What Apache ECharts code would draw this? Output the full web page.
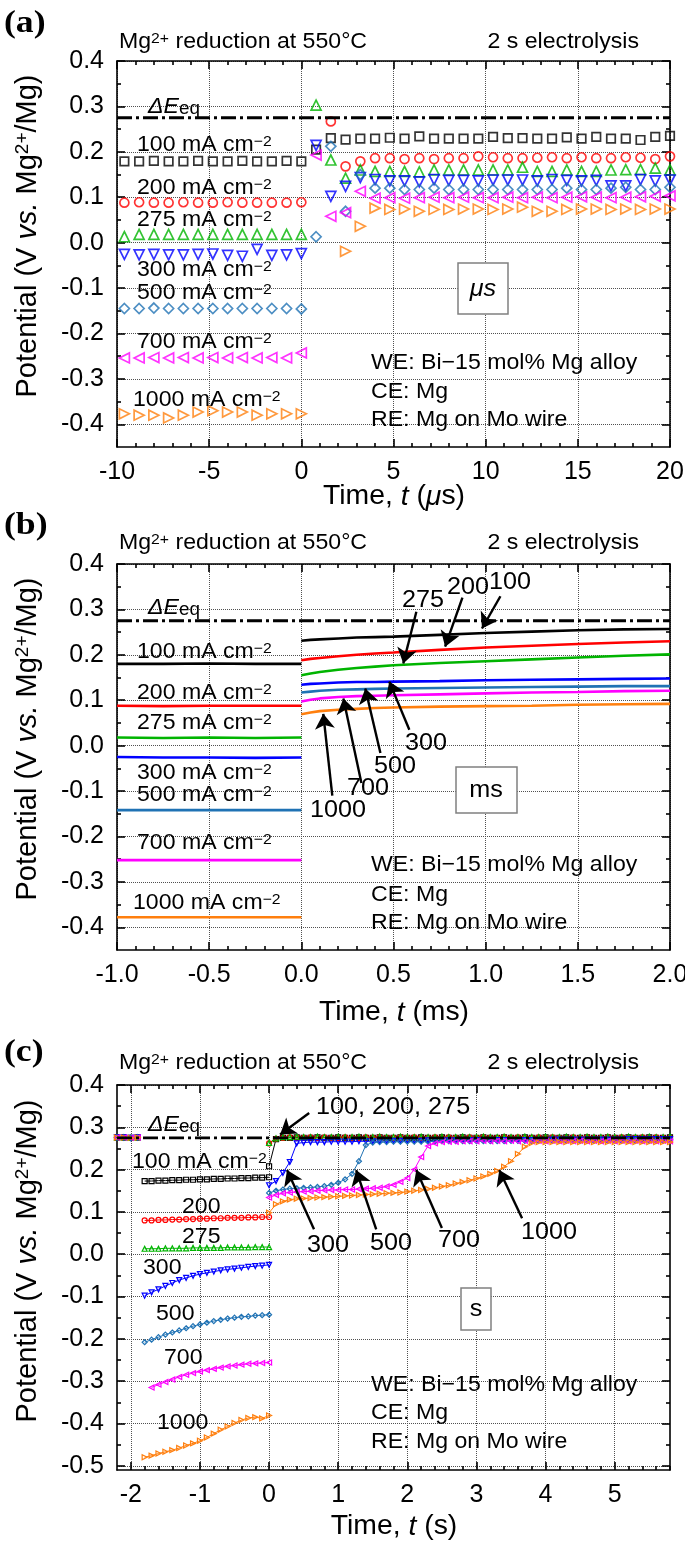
<!DOCTYPE html>
<html><head><meta charset="utf-8">
<script src="https://cdn.jsdelivr.net/npm/echarts@6/dist/echarts.min.js"></script>
<style>html,body{margin:0;padding:0;background:#fff}#c{width:685px;height:1549px}</style>
</head><body><div id="c"></div>
<script>
// ---------------- DATA ----------------
const EQ = 0.275; // ΔEeq level (V)
// Panel (a): microsecond scale, one marker every 0.8 µs
const aTime = [-9.6,-8.8,-8.0,-7.2,-6.4,-5.6,-4.8,-4.0,-3.2,-2.4,-1.6,-0.8,0.0,
  0.8,1.6,2.4,3.2,4.0,4.8,5.6,6.4,7.2,8.0,8.8,9.6,10.4,11.2,12.0,12.8,13.6,14.4,15.2,16.0,16.8,17.6,18.4,19.2,20.0];
const a100 = [0.179,0.179,0.180,0.179,0.179,0.180,0.179,0.179,0.180,0.179,0.179,0.180,0.179,
  0.205,0.230,0.227,0.229,0.229,0.231,0.229,0.234,0.229,0.229,0.229,0.229,0.233,0.230,0.230,0.229,0.229,0.232,0.229,0.233,0.229,0.229,0.226,0.233,0.235];
const a200 = [0.088,0.089,0.088,0.088,0.089,0.088,0.088,0.089,0.088,0.088,0.088,0.088,0.089,
  null,0.267,0.168,0.179,0.186,0.186,0.184,0.186,0.184,0.186,0.186,0.190,0.188,0.186,0.186,0.187,0.188,0.186,0.188,0.186,0.186,0.188,0.187,0.184,0.190];
const a275 = [0.013,0.018,0.018,0.018,0.018,0.018,0.018,0.018,0.018,0.018,0.018,0.018,0.018,
  0.303,0.182,0.142,0.160,0.157,0.157,0.157,0.156,0.160,0.160,0.160,0.160,0.160,0.160,0.166,0.157,0.157,0.160,0.157,0.157,0.160,0.161,0.161,0.164,0.160];
const a300 = [-0.026,-0.027,-0.026,-0.027,-0.027,-0.026,-0.025,-0.028,-0.030,-0.015,-0.028,-0.027,-0.024,
  0.214,0.102,0.124,0.143,0.139,0.136,0.136,0.134,0.139,0.137,0.137,0.136,0.138,0.138,0.138,0.136,0.139,0.137,0.136,0.137,0.125,0.125,0.139,0.136,0.138];
const a500 = [-0.145,-0.145,-0.144,-0.145,-0.145,-0.145,-0.145,-0.145,-0.145,-0.145,-0.145,-0.145,-0.146,
  0.013,0.212,0.069,0.150,0.120,0.120,0.117,0.117,0.120,0.117,0.117,0.117,0.117,0.117,0.117,0.117,0.117,0.120,0.117,0.117,0.120,0.122,0.117,0.117,0.122];
const a700 = [-0.254,-0.254,-0.253,-0.254,-0.253,-0.254,-0.253,-0.254,-0.253,-0.254,-0.253,-0.254,-0.243,
  0.193,0.058,0.066,0.113,0.098,0.099,0.098,0.099,0.100,0.099,0.100,0.099,0.099,0.100,0.099,0.100,0.099,0.100,0.101,0.100,0.099,0.100,0.101,0.102,0.103];
const a1000 = [-0.377,-0.380,-0.380,-0.386,-0.380,-0.373,-0.370,-0.373,-0.373,-0.380,-0.377,-0.377,-0.377,
  null,null,-0.019,0.036,0.076,0.073,0.074,0.069,0.073,0.073,0.074,0.074,0.073,0.074,0.078,0.069,0.069,0.073,0.074,0.074,0.073,0.074,0.073,0.074,0.074];

// Panel (b): millisecond scale
const bPreT = [-1.0,-0.75,-0.5,-0.25,0.0];
const b100pre = [0.180,0.180,0.181,0.180,0.180];
const b200pre = [0.088,0.087,0.088,0.088,0.088];
const b275pre = [0.018,0.017,0.018,0.017,0.018];
const b300pre = [-0.025,-0.026,-0.026,-0.027,-0.026];
const b500pre = [-0.142,-0.142,-0.142,-0.142,-0.142];
const b700pre = [-0.252,-0.252,-0.252,-0.252,-0.252];
const b1000pre = [-0.378,-0.378,-0.378,-0.378,-0.378];
const bPostT = [0.0,0.05,0.1,0.2,0.3,0.4,0.5,0.75,1.0,1.25,1.5,1.75,2.0];
const b100 = [0.231,0.233,0.234,0.236,0.238,0.239,0.240,0.244,0.248,0.251,0.254,0.256,0.257];
const b200 = [0.188,0.191,0.193,0.197,0.200,0.203,0.205,0.211,0.216,0.220,0.224,0.227,0.230];
const b275 = [0.155,0.159,0.162,0.167,0.171,0.174,0.177,0.182,0.186,0.190,0.194,0.198,0.201];
const b300 = [0.134,0.136,0.137,0.139,0.140,0.140,0.141,0.142,0.144,0.145,0.146,0.147,0.148];
const b500 = [0.117,0.119,0.121,0.123,0.124,0.125,0.126,0.127,0.128,0.129,0.130,0.131,0.131];
const b700 = [0.097,0.101,0.104,0.107,0.109,0.110,0.111,0.113,0.115,0.117,0.118,0.120,0.121];
const b1000 = [0.069,0.073,0.076,0.079,0.081,0.083,0.084,0.086,0.087,0.088,0.090,0.091,0.092];
// arrows (x1,y1 -> x2,y2) in data units, and their labels
const bArrowLabels = ['100','200','275','300','500','700','1000'];
const bArrows = [[1.08,0.329,0.98,0.258],[0.874,0.326,0.78,0.218],[0.624,0.295,0.553,0.181],
  [0.586,0.035,0.477,0.141],[0.429,-0.016,0.347,0.126],[0.326,-0.082,0.228,0.104],[0.168,-0.110,0.119,0.070]];

// Panel (c): second scale
const cRestT = [-2.2,-2.1,-2.0,-1.9];
const cRest = [0.276,0.276,0.275,0.276];
const cPreT = [-1.8,-1.7,-1.6,-1.5,-1.4,-1.3,-1.2,-1.1,-1.0,-0.9,-0.8,-0.7,-0.6,-0.5,-0.4,-0.3,-0.2,-0.1,0.0];
const c100pre = [0.173,0.173,0.174,0.174,0.175,0.175,0.176,0.176,0.177,0.177,0.178,0.178,0.179,0.179,0.180,0.180,0.181,0.181,0.182];
const c200pre = [0.080,0.080,0.081,0.081,0.082,0.082,0.083,0.083,0.084,0.084,0.085,0.085,0.086,0.086,0.086,0.087,0.087,0.088,0.088];
const c275pre = [0.013,0.013,0.013,0.014,0.014,0.014,0.014,0.015,0.015,0.015,0.015,0.015,0.016,0.016,0.016,0.016,0.017,0.017,0.017];
const c300pre = [-0.098,-0.090,-0.083,-0.075,-0.068,-0.061,-0.056,-0.051,-0.047,-0.044,-0.041,-0.038,-0.036,-0.034,-0.032,-0.030,-0.028,-0.027,-0.025];
const c500pre = [-0.208,-0.202,-0.196,-0.190,-0.185,-0.180,-0.175,-0.170,-0.166,-0.162,-0.158,-0.155,-0.152,-0.150,-0.148,-0.147,-0.145,-0.144,-0.143];
const c700pre = [null,-0.315,-0.308,-0.302,-0.296,-0.290,-0.285,-0.281,-0.277,-0.274,-0.271,-0.268,-0.265,-0.263,-0.261,-0.259,-0.258,-0.257,-0.256];
const c1000pre = [-0.480,-0.476,-0.471,-0.467,-0.463,-0.458,-0.452,-0.447,-0.441,-0.433,-0.424,-0.415,-0.407,-0.399,-0.392,-0.387,-0.385,-0.388,-0.381];
const cPostT = [0.0,0.1,0.2,0.3,0.4,0.5,0.6,0.7,0.8,0.9,1.0,1.1,1.2,1.3,1.4,1.5,1.6,1.7,1.8,1.9,
  2.0,2.1,2.2,2.3,2.4,2.5,2.6,2.7,2.8,2.9,3.0,3.1,3.2,3.3,3.4,3.5,3.6,3.7,3.8,3.9,
  4.0,4.1,4.2,4.3,4.4,4.5,4.6,4.7,4.8,4.9,5.0,5.1,5.2,5.3,5.4,5.5,5.6,5.7,5.8];
const c100post = [0.208,0.272,0.275,0.275,0.276,0.275,0.275,0.276,0.275,0.275,
  0.276,0.275,0.275,0.276,0.275,0.275,0.276,0.275,0.275,0.276,
  0.275,0.275,0.276,0.275,0.275,0.276,0.275,0.275,0.276,0.275,
  0.275,0.276,0.275,0.275,0.276,0.275,0.275,0.276,0.275,0.275,
  0.276,0.275,0.275,0.276,0.275,0.275,0.276,0.275,0.275,0.276,
  0.275,0.275,0.276,0.275,0.275,0.276,0.275,0.275,0.276];
const c200post = [0.262,0.273,0.275,0.276,0.275,0.275,0.276,0.275,0.276,0.275,
  0.275,0.276,0.275,0.275,0.276,0.275,0.276,0.275,0.275,0.276,
  0.275,0.276,0.275,0.275,0.276,0.275,0.276,0.275,0.275,0.276,
  0.275,0.276,0.275,0.275,0.276,0.275,0.276,0.275,0.275,0.276,
  0.275,0.276,0.275,0.275,0.276,0.275,0.276,0.275,0.275,0.276,
  0.275,0.276,0.275,0.275,0.276,0.275,0.276,0.275,0.275];
const c275post = [0.263,0.274,0.277,0.277,0.278,0.277,0.277,0.278,0.277,0.277,
  0.278,0.277,0.277,0.278,0.277,0.277,0.278,0.277,0.277,0.278,
  0.277,0.277,0.278,0.277,0.277,0.278,0.277,0.277,0.278,0.277,
  0.277,0.278,0.277,0.277,0.278,0.277,0.277,0.278,0.277,0.277,
  0.278,0.277,0.277,0.278,0.277,0.277,0.278,0.277,0.277,0.278,
  0.277,0.277,0.278,0.277,0.277,0.278,0.277,0.277,0.278];
const c300post = [0.163,0.173,0.192,0.218,0.262,0.264,0.265,0.265,0.265,0.266,
  0.266,0.266,0.266,0.267,0.267,0.267,0.267,0.268,0.268,0.268,
  0.268,0.268,0.268,0.269,0.269,0.269,0.269,0.269,0.269,0.269,
  0.270,0.270,0.270,0.270,0.270,0.270,0.270,0.270,0.270,0.270,
  0.270,0.271,0.271,0.271,0.271,0.271,0.271,0.271,0.271,0.271,
  0.271,0.271,0.272,0.272,0.272,0.272,0.272,0.272,0.272];
const c500post = [0.145,0.150,0.153,0.155,0.156,0.157,0.158,0.159,0.161,0.164,
  0.169,0.177,0.190,0.220,0.258,0.264,0.265,0.265,0.266,0.266,
  0.266,0.266,0.266,0.266,0.267,0.267,0.267,0.267,0.267,0.267,
  0.267,0.267,0.267,0.267,0.267,0.268,0.268,0.268,0.268,0.268,
  0.268,0.268,0.268,0.268,0.268,0.268,0.268,0.268,0.268,0.268,
  0.268,0.268,0.268,0.268,0.268,0.268,0.268,0.268,0.268];
const c700post = [0.134,0.140,0.144,0.146,0.147,0.148,0.149,0.150,0.151,0.152,
  0.152,0.153,0.153,0.154,0.155,0.156,0.157,0.160,0.164,0.171,
  0.180,0.200,0.230,0.256,0.262,0.265,0.266,0.266,0.267,0.267,
  0.267,0.268,0.267,0.268,0.267,0.268,0.267,0.268,0.267,0.268,
  0.267,0.268,0.267,0.268,0.267,0.268,0.267,0.268,0.267,0.268,
  0.267,0.268,0.267,0.268,0.267,0.268,0.267,0.268,0.267];
const c1000post = [0.098,0.118,0.125,0.129,0.131,0.132,0.133,0.134,0.135,0.136,
  0.137,0.138,0.139,0.140,0.141,0.142,0.143,0.144,0.145,0.146,
  0.148,0.150,0.152,0.154,0.157,0.160,0.163,0.167,0.171,0.175,
  0.179,0.184,0.190,0.197,0.207,0.220,0.237,0.254,0.263,0.265,
  0.265,0.265,0.265,0.265,0.265,0.265,0.265,0.265,0.265,0.265,
  0.265,0.265,0.265,0.265,0.265,0.265,0.265,0.265,0.265];
const cArrowLabels = ['100, 200, 275','300','500','700','1000'];
const cArrows = [[0.58,0.334,0.16,0.283],[0.65,0.059,0.26,0.199],[1.55,0.059,1.26,0.199],
  [2.50,0.062,2.13,0.199],[3.66,0.085,3.33,0.199]];

// Tick labels
const aXTicks = [-10,-5,0,5,10,15,20];
const bXTicks = [-1.0,-0.5,0.0,0.5,1.0,1.5,2.0];
const cXTicks = [-2,-1,0,1,2,3,4,5];
const abYTicks = [-0.4,-0.3,-0.2,-0.1,0.0,0.1,0.2,0.3,0.4];
const cYTicks = [-0.5,-0.4,-0.3,-0.2,-0.1,0.0,0.1,0.2,0.3,0.4];

// ---------------- STYLE ----------------
const FONT = '"Liberation Sans", Arial, Helvetica, sans-serif';
const SERIF = '"Liberation Serif", "Times New Roman", serif';
const currents = [
  {name:'100', color:'#000000', symbol:'rect', rot:0},
  {name:'200', color:'#ff0000', symbol:'circle', rot:0},
  {name:'275', color:'#00b400', symbol:'triangle', rot:0},
  {name:'300', color:'#0000ff', symbol:'triangle', rot:180},
  {name:'500', color:'#1f72b4', symbol:'diamond', rot:0},
  {name:'700', color:'#ff00ff', symbol:'triangle', rot:90},
  {name:'1000', color:'#ff7f0e', symbol:'triangle', rot:-90}
];
const BRK = ['-','-'];
function pairs(ts, vs){ return ts.map((t,i)=> vs[i]==null ? BRK : [t, vs[i]]); }
function joinSeg(){ let out=[]; for(let i=0;i<arguments.length;i++){ if(i>0) out.push(BRK); out = out.concat(arguments[i]); } return out; }
function minors(a, b, step, major){
  const out=[]; const n=Math.round((b-a)/step);
  for(let i=0;i<=n;i++){ const v=+(a+i*step).toFixed(4); const r=v/major; if(Math.abs(r-Math.round(r))>1e-6) out.push(v); }
  return out;
}

const grids = [
  {left:117, right:15, top:61, height:386},
  {left:117, right:15, top:564, height:386},
  {left:117, right:15, top:1085, height:385}
].map(g=>Object.assign(g,{containLabel:false, outerBoundsMode:'none', show:false}));

const xAxes=[], yAxes=[];
function addAxes(g, xmin, xmax, xMaj, xMin, xFmt, ymin, ymax, yMaj, yMin, yFmt){
  const line = {show:true, onZero:false, lineStyle:{color:'#000', width:1.6}};
  const noLine = {show:false, onZero:false};
  const split = {show:true, lineStyle:{color:'#505050', width:1, type:'dotted'}};
  const lab = (vals, fmt) => ({show:true, customValues:vals, formatter:fmt, fontSize:25, fontFamily:FONT, color:'#000', margin:13});
  const tick = (vals, len) => ({show:true, inside:true, length:len, customValues:vals, lineStyle:{color:'#000', width:1.6}});
  const common = {type:'value', gridIndex:g, minorTick:{show:false}, minorSplitLine:{show:false}, silent:true};
  const X = (o)=>Object.assign({}, common, {min:xmin, max:xmax}, o);
  const Y = (o)=>Object.assign({}, common, {min:ymin, max:ymax}, o);
  xAxes.push(X({position:'bottom', axisLine:line, axisTick:tick(xMaj,8), axisLabel:lab(xMaj,xFmt), splitLine:split}));
  xAxes.push(X({position:'bottom', axisLine:noLine, axisTick:tick(xMin,4), axisLabel:{show:false}, splitLine:{show:false}}));
  xAxes.push(X({position:'top', axisLine:line, axisTick:tick(xMaj,8), axisLabel:{show:false}, splitLine:{show:false}}));
  xAxes.push(X({position:'top', axisLine:noLine, axisTick:tick(xMin,4), axisLabel:{show:false}, splitLine:{show:false}}));
  yAxes.push(Y({position:'left', axisLine:line, axisTick:tick(yMaj,8), axisLabel:lab(yMaj,yFmt), splitLine:split}));
  yAxes.push(Y({position:'left', axisLine:noLine, axisTick:tick(yMin,4), axisLabel:{show:false}, splitLine:{show:false}}));
  yAxes.push(Y({position:'right', axisLine:line, axisTick:tick(yMaj,8), axisLabel:{show:false}, splitLine:{show:false}}));
  yAxes.push(Y({position:'right', axisLine:noLine, axisTick:tick(yMin,4), axisLabel:{show:false}, splitLine:{show:false}}));
}
const f1 = v => (Math.abs(v)<1e-9?0:v).toFixed(1);
const f0 = v => String(Math.round(v));
addAxes(0, -10, 20, aXTicks, minors(-10,20,1,5), f0, -0.45, 0.4, abYTicks, minors(-0.4,0.4,0.05,0.1), f1);
addAxes(1, -1, 2, bXTicks, minors(-1,2,0.1,0.5), f1, -0.45, 0.4, abYTicks, minors(-0.4,0.4,0.05,0.1), f1);
addAxes(2, -2.2, 5.8, cXTicks, minors(-2,5.8,0.2,1), f0, -0.51, 0.4, cYTicks, minors(-0.5,0.4,0.05,0.1), f1);

const series = [];
// panel a - hollow markers
const aVals = [a100,a200,a275,a300,a500,a700,a1000];
currents.forEach((c,i)=>{
  series.push({type:'scatter', xAxisIndex:0, yAxisIndex:0, silent:true, data:pairs(aTime, aVals[i]),
    symbol:c.symbol, symbolRotate:c.rot, symbolSize: c.symbol==='rect'?8.5:(c.symbol==='circle'?9:10),
    itemStyle:{color:'rgba(0,0,0,0)', borderColor:c.color, borderWidth:1.7}, z:3});
});
// panel b - dense traces
const bPre = [b100pre,b200pre,b275pre,b300pre,b500pre,b700pre,b1000pre];
const bPost = [b100,b200,b275,b300,b500,b700,b1000];
currents.forEach((c,i)=>{
  series.push({type:'line', xAxisIndex:4, yAxisIndex:4, silent:true, showSymbol:false, symbol:'none',
    data: joinSeg(pairs(bPreT,bPre[i]), pairs(bPostT,bPost[i])),
    lineStyle:{color:c.color, width:2.6}, z:3});
});
// panel c - small markers
const cPre = [c100pre,c200pre,c275pre,c300pre,c500pre,c700pre,c1000pre];
const cPost = [c100post,c200post,c275post,c300post,c500post,c700post,c1000post];
currents.forEach((c,i)=>{
  series.push({type:'line', xAxisIndex:8, yAxisIndex:8, silent:true, showSymbol:true,
    symbol:c.symbol, symbolRotate:c.rot, symbolSize:5,
    data: joinSeg(pairs(cRestT,cRest), pairs(cPreT,cPre[i]), pairs(cPostT,cPost[i])),
    itemStyle:{color:'rgba(0,0,0,0)', borderColor:c.color, borderWidth:1.2},
    lineStyle:{color:c.color, width:1}, z:3});
});
// ΔEeq lines + arrows
const ranges = [[-10,20],[-1,2],[-2.2,5.8]];
const arrowSets = [[], bArrows, cArrows];
ranges.forEach((r,g)=>{
  series.push({type:'line', xAxisIndex:4*g, yAxisIndex:4*g, silent:true, symbol:'none',
    data:[[r[0],EQ],[r[1],EQ]], lineStyle:{color:'#000', width:2.8, type:[15,4,3,4]}, z:10,
    markLine: arrowSets[g].length ? {silent:true, animation:false, symbol:['none','arrow'], symbolSize:15,
      label:{show:false}, lineStyle:{color:'#000', width:2.4, type:'solid'},
      data: arrowSets[g].map(a=>[{coord:[a[0],a[1]]},{coord:[a[2],a[3]]}])} : undefined
  });
});

// ---------------- TEXT ----------------
function rich(s){ return {
  n:{fontSize:s, fontFamily:FONT, fill:'#000'},
  i:{fontSize:s, fontFamily:FONT, fontStyle:'italic', fill:'#000'},
  sup:{fontSize:Math.round(s*0.66), fontFamily:FONT, fill:'#000', verticalAlign:'top'},
  sub:{fontSize:Math.round(s*0.8), fontFamily:FONT, fill:'#000', verticalAlign:'bottom'}
};}
function T(x, y, text, o){ o=o||{}; const s=o.size||22; const al=o.align||'left';
  return {type:'text', x:x, y:y, rotation:o.rot||0, scaleX:o.sx||1.05, z:100, silent:true,
    style:{text:text, fill:'#000', font:(o.bold?'bold ':'')+s+'px '+(o.family||FONT),
      align:al, verticalAlign:'middle', textAlign:al, textVerticalAlign:'middle', rich:rich(s)}};
}
function box(x,y,w,h){ return {type:'rect', z:90, silent:true, shape:{x:x,y:y,width:w,height:h}, style:{fill:'#fff', stroke:'#808080', lineWidth:1.5}}; }
const cm = v => '{n|'+v+' mA cm}{sup|−2}';
const header = '{n|Mg}{sup|2+}{n| reduction at 550°C}';
const ytitle = '{n|Potential (V }{i|vs.}{n| Mg}{sup|2+}{n|/Mg)}';
const G = [];
const PL = {size:31,bold:true,family:SERIF,sx:1.15};
// panel a
G.push(T(4,24,'(a)',PL));
G.push(T(119,42,header)); G.push(T(639,42,'{n|2 s electrolysis}',{align:'right'}));
G.push(T(148,107,'{i|ΔE}{sub|eq}'));
[[137,145,'100'],[137,188,'200'],[137,220,'275'],[137,270,'300'],[137,293,'500'],[137,342,'700'],[133,400,'1000']]
  .forEach(p=>G.push(T(p[0],p[1],cm(p[2]))));
G.push(T(371,363,'{n|WE: Bi−15 mol% Mg alloy}')); G.push(T(371,392,'{n|CE: Mg}')); G.push(T(371,420,'{n|RE: Mg on Mo wire}'));
G.push(box(458,263,50,51)); G.push(T(483,289,'{i|μs}',{align:'center',size:24}));
G.push(T(394,497,'{n|Time, }{i|t}{n| (}{i|μ}{n|s)}',{align:'center',size:27}));
G.push(T(28,236,ytitle,{align:'center',rot:Math.PI/2,size:29,sx:1}));
// panel b
G.push(T(4,526,'(b)',PL));
G.push(T(119,543,header)); G.push(T(639,543,'{n|2 s electrolysis}',{align:'right'}));
G.push(T(148,608,'{i|ΔE}{sub|eq}'));
[[137,652,'100'],[137,693,'200'],[137,723,'275'],[137,773,'300'],[137,795,'500'],[137,843,'700'],[133,903,'1000']]
  .forEach(p=>G.push(T(p[0],p[1],cm(p[2]))));
G.push(T(371,865,'{n|WE: Bi−15 mol% Mg alloy}')); G.push(T(371,895,'{n|CE: Mg}')); G.push(T(371,923,'{n|RE: Mg on Mo wire}'));
G.push(box(456,767,61,46)); G.push(T(486,790,'{n|ms}',{align:'center',size:24}));
const bLabPos = [[510,582],[468,587],[423,600],[426,743],[395,766],[368,788],[338,810]];
bArrowLabels.forEach((l,i)=>G.push(T(bLabPos[i][0],bLabPos[i][1],'{n|'+l+'}',{align:'center',size:24})));
G.push(T(394,1013,'{n|Time, }{i|t}{n| (ms)}',{align:'center',size:27}));
G.push(T(28,739,ytitle,{align:'center',rot:Math.PI/2,size:29,sx:1}));
// panel c
G.push(T(4,1053,'(c)',PL));
G.push(T(119,1063,header)); G.push(T(639,1063,'{n|2 s electrolysis}',{align:'right'}));
G.push(T(148,1125,'{i|ΔE}{sub|eq}'));
G.push(T(132,1162,cm('100')));
[[182,1207,'200'],[182,1237,'275'],[143,1268,'300'],[156,1314,'500'],[164,1358,'700'],[157,1423,'1000']]
  .forEach(p=>G.push(T(p[0],p[1],'{n|'+p[2]+'}',{size:22})));
G.push(T(371,1385,'{n|WE: Bi−15 mol% Mg alloy}')); G.push(T(371,1413,'{n|CE: Mg}')); G.push(T(371,1442,'{n|RE: Mg on Mo wire}'));
G.push(box(461,1288,30,42)); G.push(T(476,1309,'{n|s}',{align:'center',size:24}));
const cLabPos = [[316,1107,'left'],[328,1245,'center'],[391,1243,'center'],[459,1240,'center'],[549,1232,'center']];
cArrowLabels.forEach((l,i)=>G.push(T(cLabPos[i][0],cLabPos[i][1],'{n|'+l+'}',{align:cLabPos[i][2],size:24})));
G.push(T(394,1527,'{n|Time, }{i|t}{n| (s)}',{align:'center',size:27}));
G.push(T(28,1261,ytitle,{align:'center',rot:Math.PI/2,size:29,sx:1}));

const chart = echarts.init(document.getElementById('c'), null, {renderer:'canvas'});
chart.setOption({
  animation:false, backgroundColor:'#fff',
  textStyle:{fontFamily:FONT},
  grid:grids, xAxis:xAxes, yAxis:yAxes, series:series, graphic:{elements:G}
});
</script></body></html>
